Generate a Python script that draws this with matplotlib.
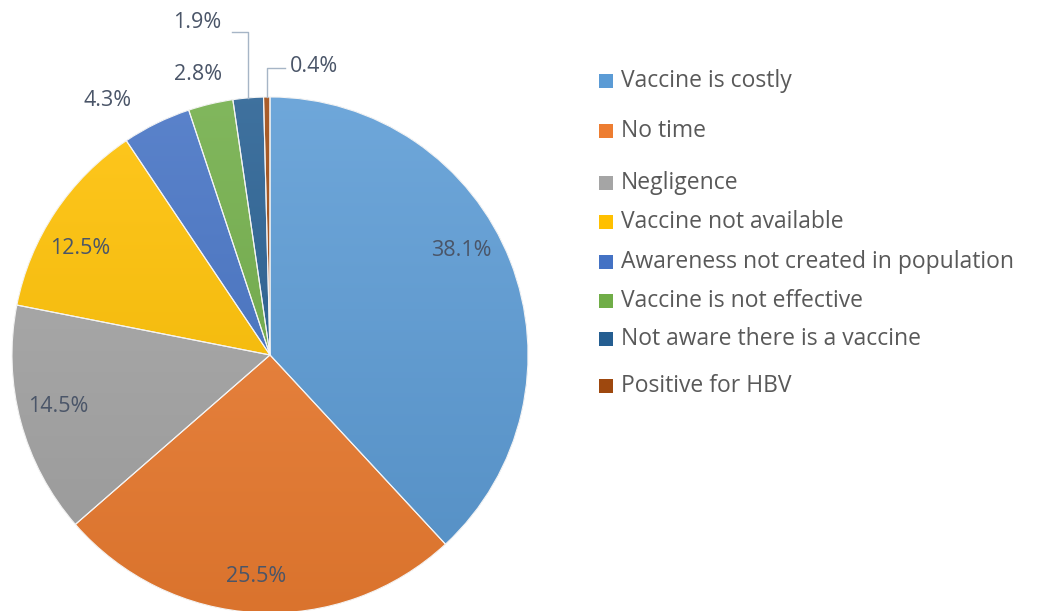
import numpy as np
import matplotlib.pyplot as plt
from matplotlib.colors import to_rgb
from matplotlib.patches import Rectangle

labels = ['Vaccine is costly', 'No time', 'Negligence', 'Vaccine not available',
          'Awareness not created in population', 'Vaccine is not effective',
          'Not aware there is a vaccine', 'Positive for HBV']
values = [38.1, 25.5, 14.5, 12.5, 4.3, 2.8, 1.9, 0.4]
colors = ['#5B9BD5', '#ED7D31', '#A5A5A5', '#FFC000', '#4472C4', '#70AD47', '#255E91', '#9E480E']

# label centres in pixel coords (from bottom-left)
label_pos = [(461, 361), (256, 35), (58, 205), (80, 363), (108, 510), (198, 537), (197, 589), (314, 545)]
# leader lines for the two thin slices: (index, elbow height, end x)
leaders = [(6, 579, 232), (7, 543, 285)]
legend_y = [81, 131, 183, 222, 262, 301, 339, 386]  # from top

plt.rcParams['font.family'] = ['Open Sans', 'DejaVu Sans']
fig = plt.figure(figsize=(10.56, 6.11), dpi=100)
ax = fig.add_axes([0, 0, 1, 1])

cx, cy, r = 270, 256, 258
wedges, _ = ax.pie(values, colors=colors, startangle=90, counterclock=False,
                   center=(cx, cy), radius=r, frame=True)

# vertical gradient fill clipped to each wedge
t = np.linspace(0, 1, 256)[:, None]
for w, c in zip(wedges, colors):
    c = np.array(to_rgb(c))
    light = c + (1 - c) * 0.12
    dark = c * 0.92
    img = light[None, None, :] * (1 - t[:, :, None]) + dark[None, None, :] * t[:, :, None]
    img = np.repeat(img, 2, axis=1)
    im = ax.imshow(img, extent=(cx - r, cx + r, cy - r, cy + r), origin='upper',
                   aspect='auto', zorder=2)
    im.set_clip_path(w)
ax.pie(values, startangle=90, counterclock=False, center=(cx, cy), radius=r,
       wedgeprops=dict(fill=False, edgecolor='#F4F4F4', linewidth=0.8, zorder=3), frame=True)
ax.set_xlim(0, 1056)
ax.set_ylim(0, 611)
ax.set_aspect('auto')
ax.axis('off')

txt_color = '#4A5568'
for v, (x, y) in zip(values, label_pos):
    ax.text(x, y, f'{v:.1f}%', ha='center', va='center', fontsize=15.5, color=txt_color, zorder=5)

for i, ey, ex in leaders:
    w = wedges[i]
    ang = np.deg2rad((w.theta1 + w.theta2) / 2)
    px, py = cx + r * np.cos(ang), cy + r * np.sin(ang)
    ax.plot([px, px, ex], [py, ey, ey], color='#A6B5C6', lw=1, zorder=4)

for lab, c, y in zip(labels, colors, legend_y):
    yb = 611 - y
    ax.add_patch(Rectangle((599, yb - 7), 14, 14, facecolor=c, edgecolor='none'))
    ax.text(621, yb, lab, ha='left', va='center', fontsize=16.5, color='#595959')

fig.savefig('out.png', dpi=100)
